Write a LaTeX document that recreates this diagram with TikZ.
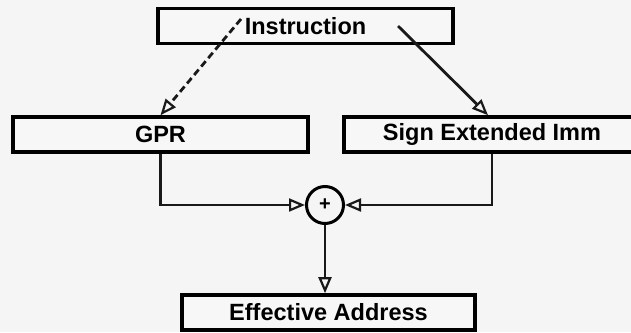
\documentclass[tikz,border=0pt]{standalone}
\usepackage{fontspec}
\setmainfont{Liberation Sans}
\usetikzlibrary{arrows.meta}
\begin{document}
\begin{tikzpicture}[x=1pt,y=-1pt,
  box/.style={draw=black, line width=3.6pt, fill=white!97!black,
    minimum height=35pt, inner sep=0pt,
    font=\fontsize{23.5}{27}\selectfont\bfseries},
  link/.style={draw=black!90, line width=2.8pt,
    -{Triangle[open, length=16pt, width=13pt, line width=2.2pt]}},
  dashlink/.style={link, dash pattern=on 7pt off 4pt},
  sum/.style={circle, draw=black, line width=3pt, minimum size=37pt,
    inner sep=0pt, font=\fontsize{20}{22}\selectfont\bfseries}]
  % page area
  \fill[black!4] (0,0) rectangle (631,332);
  \useasboundingbox (0,0) rectangle (631,332);

  % boxes
  \node[box, minimum width=295pt] (instr) at (305.5,26) {Instruction};
  \node[box, minimum width=295pt] (gpr) at (160.5,134.5) {GPR};
  \node[box, minimum width=296pt] (imm) at (492,134.5) {Sign Extended Imm};
  \node[box, minimum width=293pt] (ea) at (328.5,312.5) {Effective Address};
  \node[sum] (add) at (325,205) {+};

  % sources inside the instruction field
  \coordinate (regsrc) at (241,19);
  \coordinate (immsrc) at (398,26);

  % instruction fields to operands
  \draw[dashlink] (regsrc) -- (gpr.north);
  \draw[link] (immsrc) -- (imm.north -| 488,0);

  % operands into the adder
  \draw[link] (gpr.south) |- (add.west);
  \draw[link] (imm.south) |- (add.east);

  % adder result
  \draw[link] (add.south) -- (add.south |- ea.north);
\end{tikzpicture}
\end{document}
